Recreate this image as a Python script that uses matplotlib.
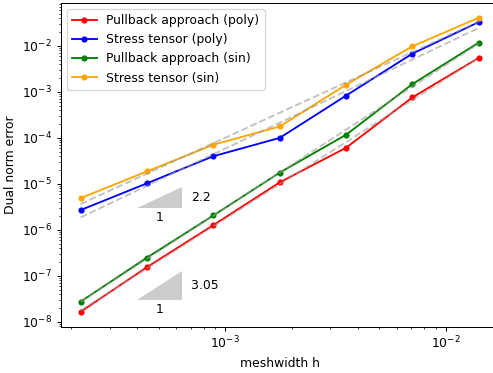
import numpy as np
import matplotlib
matplotlib.use("Agg")
import matplotlib.pyplot as plt

# mesh widths and dual-norm errors
h = np.sqrt(2) / 100 / 2.0 ** np.arange(6, -1, -1)
pullback_poly = [1.66e-8, 1.55e-7, 1.27e-6, 1.08e-5, 6.1e-5, 7.6e-4, 5.5e-3]
stress_poly = [2.7e-6, 1.03e-5, 4.0e-5, 1.0e-4, 8.3e-4, 6.8e-3, 3.3e-2]
pullback_sin = [2.76e-8, 2.5e-7, 2.06e-6, 1.76e-5, 1.17e-4, 1.48e-3, 1.18e-2]
stress_sin = [4.9e-6, 1.87e-5, 7.1e-5, 1.77e-4, 1.43e-3, 9.8e-3, 4.1e-2]

series = [
    ("Pullback approach (poly)", pullback_poly, "red"),
    ("Stress tensor (poly)", stress_poly, "blue"),
    ("Pullback approach (sin)", pullback_sin, "green"),
    ("Stress tensor (sin)", stress_sin, "orange"),
]

# slope triangles: (x0, y0, slope label)
triangles = [(4.0e-4, 3.0e-6, 2.2), (4.0e-4, 3.0e-8, 3.05)]
tri_factor = 1.6

W, H, DPI = 493, 373, 89
fig = plt.figure(figsize=(W / DPI, H / DPI), dpi=DPI)
ax = fig.add_axes([60.7 / W, (H - 326.5) / H, 438 / W, 323.5 / H])

for label, err, color in series:
    ax.loglog(h, err, "-o", color=color, label=label, markersize=4, linewidth=1.5)

# least-squares fits in log-log space
for label, err, color in series:
    p = np.polyfit(np.log(h), np.log(err), 1)
    fit = np.exp(np.polyval(p, np.log(h)))
    ax.loglog(h, fit, "--", color="0.6", alpha=0.6, linewidth=1.5)

for x0, y0, s in triangles:
    x1 = x0 * tri_factor
    y1 = y0 * tri_factor ** s
    ax.fill([x0, x1, x1], [y0, y0, y1], color="0.8", linewidth=0)
    ax.text(x1 * 1.09, np.sqrt(y0 * y1), f"{s}", va="center", ha="left")
    ax.text(np.sqrt(x0 * x1), y0 / 1.65, "1", va="center", ha="center")

ax.set_xlabel("meshwidth h")
ax.set_ylabel("Dual norm error")
ax.legend(loc="upper left")

fig.savefig("out.png", dpi=DPI)
